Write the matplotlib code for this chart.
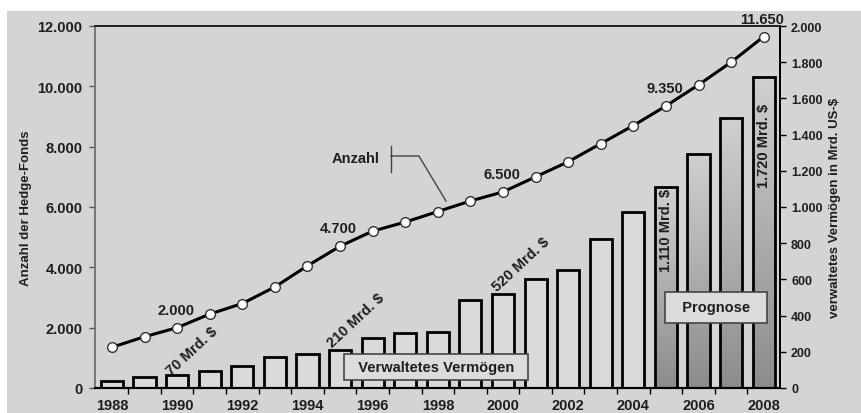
import matplotlib
matplotlib.use("Agg")
import matplotlib.pyplot as plt
import numpy as np
from matplotlib.patches import Rectangle
from matplotlib.ticker import FuncFormatter, FixedLocator
from matplotlib.colors import LinearSegmentedColormap

# ---- data ----
years = list(range(1988, 2009))
fund_count = [1350, 1700, 2000, 2450, 2800, 3350, 4050, 4700, 5200, 5500, 5850,
              6200, 6500, 7000, 7500, 8100, 8700, 9350, 10050, 10800, 11650]
assets = [38, 59, 70, 96, 123, 173, 188, 210, 276, 304, 311,
          486, 520, 602, 652, 823, 971, 1110, 1293, 1490, 1720]
forecast_start = 2005
count_label_years = [1990, 1995, 2000, 2005, 2008]
asset_label_years = [1990, 1995, 2000]
asset_label_years_vertical = [2005, 2008]
left_ticks = [0, 2000, 4000, 6000, 8000, 10000, 12000]
right_ticks = list(range(0, 2001, 200))
year_labels = years[::2]

FONT = "Liberation Sans"
BG = "#d4d4d4"
TXT = "#1e1e1e"
plt.rcParams["font.family"] = [FONT, "DejaVu Sans"]
plt.rcParams["font.weight"] = "bold"
FS = 10.5


def de(v):
    return f"{int(round(v)):,}".replace(",", ".")


fig = plt.figure(figsize=(8.62, 4.14), dpi=100)
fig.patch.set_facecolor("white")
fig.add_artist(Rectangle((7 / 862, 0), 1, (414 - 12) / 414, transform=fig.transFigure,
                         facecolor=BG, edgecolor="none", zorder=-10))

ax = fig.add_axes([95 / 862, 25 / 414, (780 - 95) / 862, (389 - 27) / 414])
axr = ax.twinx()
ax.set_zorder(axr.get_zorder() + 1)
ax.patch.set_visible(False)
axr.patch.set_facecolor(BG)

ax.set_xlim(1987.48, 2008.5)
ax.set_ylim(0, 12000)

# ---- bars (assets) ----
bar_w = 0.68
bars = axr.bar(years, assets, width=bar_w, facecolor="#dadada", edgecolor="black",
               linewidth=2.0, zorder=2)
grad = np.linspace(0, 1, 256).reshape(-1, 1)
cmap = LinearSegmentedColormap.from_list("g", ["#8c8c8c", "#d0d0d0"])
for y, b in zip(years, bars):
    if y >= forecast_start:
        b.set_facecolor("none")
        x0 = b.get_x()
        im = axr.imshow(grad, extent=(x0, x0 + b.get_width(), 0, b.get_height()),
                        origin="lower", cmap=cmap, aspect="auto", zorder=1.9)
        im.set_clip_path(b)
axr.set_xlim(1987.48, 2008.5)
axr.set_ylim(0, 2000)

# ---- line (count) ----
ax.plot(years, fund_count, color="black", linewidth=2.2, marker="o", markersize=7,
        markerfacecolor="white", markeredgecolor="#333333", markeredgewidth=1.0, zorder=5)

for y in count_label_years:
    v = fund_count[years.index(y)]
    ax.annotate(de(v), (y, v), xytext=(-1, 13), textcoords="offset points",
                ha="center", va="center", fontsize=FS, fontweight="bold", color=TXT)

# rotated asset labels
rot_pos = {1990: (1990.45, 205), 1995: (1995.48, 375), 2000: (2000.55, 685)}
for y in asset_label_years:
    v = assets[years.index(y)]
    px, py = rot_pos[y]
    axr.text(px, py, f"{de(v)} Mrd. $", rotation=43, rotation_mode="anchor",
             ha="center", va="center", fontsize=FS, fontweight="bold", color=TXT, zorder=6)
vert_pos = {2005: 878, 2008: 1343}
for y in asset_label_years_vertical:
    v = assets[years.index(y)]
    axr.text(y, vert_pos[y], f"{de(v)} Mrd. $", rotation=90, ha="center", va="center",
             fontsize=FS, fontweight="bold", color=TXT, zorder=6)

# boxes
box = dict(boxstyle="square,pad=0.4", facecolor="#dcdcdc", edgecolor="#444444", linewidth=1.2)
axr.text(1997.94, 116, "  Verwaltetes Vermögen  ", ha="center", va="center", fontsize=FS,
         fontweight="bold", color=TXT, bbox=box, zorder=7)
box2 = dict(boxstyle="square,pad=0.6", facecolor="#dcdcdc", edgecolor="#444444", linewidth=1.2)
axr.text(2006.53, 445, "  Prognose  ", ha="center", va="center", fontsize=FS,
         fontweight="bold", color=TXT, bbox=box2, zorder=7)

# Anzahl annotation
ax.text(1995.48, 7624, "Anzahl", ha="center", va="center", fontsize=FS,
        fontweight="bold", color=TXT, zorder=6)
ax.plot([1996.56, 1996.56], [7160, 8022], color="#444444", lw=1.0, zorder=6)
ax.plot([1996.56, 1997.42, 1998.25], [7691, 7691, 6199], color="#444444", lw=1.0, zorder=6)

# ---- axes styling ----
ax.xaxis.set_major_locator(FixedLocator(year_labels))
ax.xaxis.set_minor_locator(FixedLocator([y + 0.5 for y in years[:-1]]))
ax.tick_params(axis="x", which="major", length=0, pad=7, labelsize=FS)
ax.tick_params(axis="x", which="minor", length=4, width=1, direction="out", color="black")
ax.set_yticks(left_ticks)
ax.yaxis.set_major_formatter(FuncFormatter(lambda v, p: de(v)))
ax.tick_params(axis="y", length=4, width=1, labelsize=FS, color="#555555", pad=5)
axr.set_yticks(right_ticks)
axr.yaxis.set_major_formatter(FuncFormatter(lambda v, p: de(v)))
axr.tick_params(axis="y", length=4, width=1, labelsize=9, color="black", pad=4)
axr.tick_params(axis="x", which="both", length=0, labelbottom=False)
for t in ax.get_xticklabels() + ax.get_yticklabels() + axr.get_yticklabels():
    t.set_fontweight("bold")
    t.set_color(TXT)

ax.set_ylabel("Anzahl der Hedge-Fonds", fontsize=9.5, fontweight="bold", color=TXT)
ax.yaxis.set_label_coords(-0.092, 0.5)
axr.set_ylabel("verwaltetes Vermögen in Mrd. US-$", fontsize=9.5, fontweight="bold", color=TXT)
axr.yaxis.set_label_coords(1.071, 0.5)

for a in (ax, axr):
    a.spines["left"].set_color("#777777")
    a.spines["left"].set_linewidth(1.2)
    a.spines["bottom"].set_color("black")
    a.spines["bottom"].set_linewidth(1.5)
    a.spines["right"].set_color("black")
    a.spines["right"].set_linewidth(1.3)
    a.spines["top"].set_color("#222222")
    a.spines["top"].set_linewidth(1.3)

fig.savefig("out.png", dpi=100, facecolor=fig.get_facecolor())
